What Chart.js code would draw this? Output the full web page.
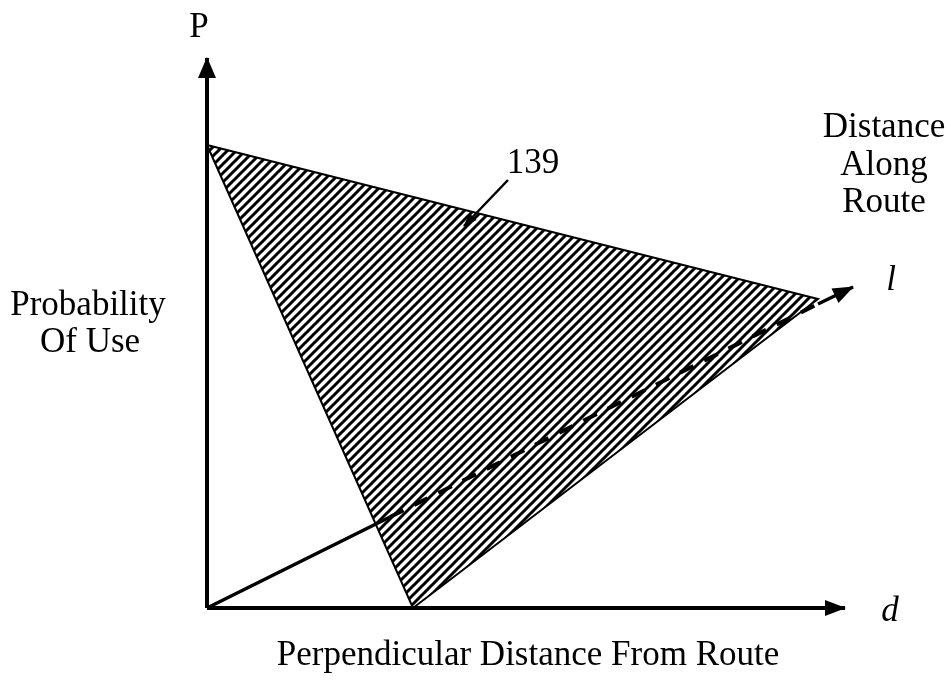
<!DOCTYPE html>
<html>
<head>
<meta charset="utf-8">
<script src="https://cdn.jsdelivr.net/npm/chart.js@4/dist/chart.umd.min.js"></script>
<style>
  html, body { margin: 0; padding: 0; background: #fff; }
  #wrap { width: 951px; height: 680px; }
</style>
</head>
<body>
<div id="wrap"><canvas id="c" width="951" height="680"></canvas></div>
<script>
// ---- data (diagram units: origin at the corner of the axes) ----
const pAxis        = [{x: 0, y: 0}, {x: 0, y: 55.0}];
const dAxis        = [{x: 0, y: 0}, {x: 63.8, y: 0}];
const lAxisSolid   = [{x: 0, y: 0}, {x: 18.3, y: 9.1}];
const lAxisDashed  = [{x: 18.3, y: 9.1}, {x: 61.1, y: 30.4}];
const lAxisEnd     = [{x: 61.1, y: 30.4}, {x: 64.6, y: 32.1}];
const region139    = [{x: 0, y: 46.3}, {x: 20.6, y: 0}, {x: 61.1, y: 30.9}, {x: 0, y: 46.3}];
const pointer139   = [{x: 30.1, y: 42.8}, {x: 25.7, y: 38.2}];

const labelTexts   = ['P', 'Probability', 'Of Use', 'Distance', 'Along', 'Route', 'l', 'd', '139',
                      'Perpendicular Distance From Route'];
const labelX       = [-0.8, -11.9, -11.7, 67.7, 67.7, 67.7, 68.4, 68.3, 32.6, 32.1];
const labelY       = [57.1, 29.3, 25.6, 47.1, 43.3, 39.6, 31.8, -1.3, 43.5, -5.7];
const labelItalic  = [false, false, false, false, false, false, true, true, false, false];

const xRange = [-20.7, 74.4];
const yRange = [-7.2, 60.8];

// ---- hatch pattern ----
function makeHatch() {
  const s = 9;
  const c = document.createElement('canvas');
  c.width = s; c.height = s;
  const g = c.getContext('2d');
  g.strokeStyle = '#000';
  g.lineWidth = 3.0;
  g.beginPath();
  g.moveTo(-1, s + 1); g.lineTo(s + 1, -1);
  g.moveTo(-s / 2 - 1, s / 2 + 1); g.lineTo(s / 2 + 1, -s / 2 - 1);
  g.moveTo(s / 2 - 1, s * 1.5 + 1); g.lineTo(s * 1.5 + 1, s / 2 - 1);
  g.stroke();
  return g.createPattern(c, 'repeat');
}

// arrowheads at the last point of datasets flagged with "arrow"
const arrowPlugin = {
  id: 'arrows',
  afterDatasetsDraw(chart) {
    const ctx = chart.ctx;
    chart.data.datasets.forEach((ds, i) => {
      if (!ds.arrow) return;
      const pts = chart.getDatasetMeta(i).data;
      const a = pts[pts.length - 2], b = pts[pts.length - 1];
      const ang = Math.atan2(b.y - a.y, b.x - a.x);
      const L = ds.arrow.len, W = ds.arrow.half;
      ctx.save();
      ctx.translate(b.x, b.y);
      ctx.rotate(ang);
      ctx.fillStyle = '#000';
      ctx.beginPath();
      ctx.moveTo(1, 0);
      ctx.lineTo(-L, -W);
      ctx.lineTo(-L, W);
      ctx.closePath();
      ctx.fill();
      ctx.restore();
    });
  }
};

const textPlugin = {
  id: 'texts',
  afterDraw(chart) {
    const ctx = chart.ctx;
    const xs = chart.scales.x, ys = chart.scales.y;
    ctx.save();
    ctx.fillStyle = '#000';
    ctx.textAlign = 'center';
    ctx.textBaseline = 'alphabetic';
    labelTexts.forEach((t, i) => {
      ctx.font = (labelItalic[i] ? 'italic ' : '') + '35px "Liberation Serif", "DejaVu Serif", serif';
      ctx.fillText(t, xs.getPixelForValue(labelX[i]), ys.getPixelForValue(labelY[i]));
    });
    ctx.restore();
  }
};

const lineDs = (data, width, extra) => Object.assign({
  data, showLine: true, borderColor: '#000', borderWidth: width,
  pointRadius: 0, pointHoverRadius: 0, fill: false, tension: 0
}, extra || {});

new Chart(document.getElementById('c'), {
  type: 'scatter',
  data: {
    datasets: [
      lineDs(region139, 2, { fill: 'shape', backgroundColor: makeHatch(), borderJoinStyle: 'miter' }),
      lineDs(lAxisSolid, 3.5),
      lineDs(lAxisDashed, 4, { borderDash: [15, 12] }),
      lineDs(lAxisEnd, 3.5, { arrow: { len: 20, half: 8 } }),
      lineDs(pAxis, 4, { arrow: { len: 20, half: 9 } }),
      lineDs(dAxis, 4, { arrow: { len: 20, half: 8 } }),
      lineDs(pointer139, 2.5, { arrow: { len: 13, half: 5 } })
    ]
  },
  options: {
    responsive: false,
    devicePixelRatio: 1,
    animation: false,
    layout: { padding: 0 },
    plugins: { legend: { display: false }, tooltip: { enabled: false } },
    events: [],
    scales: {
      x: { type: 'linear', display: false, min: xRange[0], max: xRange[1] },
      y: { type: 'linear', display: false, min: yRange[0], max: yRange[1] }
    }
  },
  plugins: [arrowPlugin, textPlugin]
});
</script>
</body>
</html>
